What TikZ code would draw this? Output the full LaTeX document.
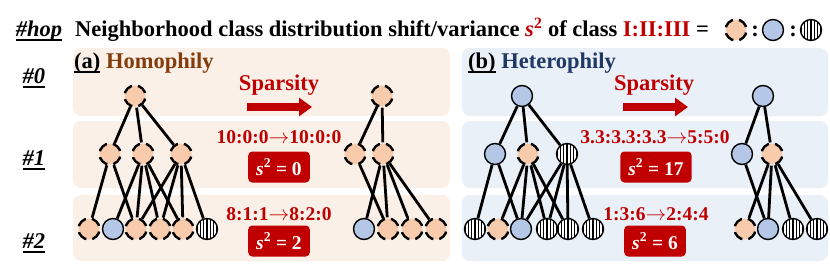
\documentclass[tikz,border=0pt]{standalone}
\usepackage{fontspec}
\setmainfont{Liberation Serif}
\usetikzlibrary{arrows.meta}
\definecolor{peachfill}{HTML}{F8CBAD}
\definecolor{bluefill}{HTML}{B4C7E7}
\definecolor{redtxt}{HTML}{C00000}
\definecolor{homobg}{HTML}{FBF0E8}
\definecolor{heterobg}{HTML}{EAF0F8}
\definecolor{homotxt}{HTML}{843C0C}
\definecolor{heterotxt}{HTML}{203864}
\newcommand\hopul[1]{\setbox0\hbox{#1}\rlap{\rule[-5pt]{\wd0}{1.6pt}}\box0\relax}
\newcommand\ratioto{$\rightarrow$}
\begin{document}
\begin{tikzpicture}[x=1pt,y=-1pt,
    every node/.style={font=\fontsize{22.5}{27}\selectfont\bfseries},
    nodeI/.style={circle, minimum size=21pt, inner sep=0pt, fill=peachfill, draw=black, line width=2.4pt, dash pattern=on 10.5pt off 6pt, dash phase=13.5pt},
    nodeII/.style={circle, minimum size=21pt, inner sep=0pt, fill=bluefill, draw=black, line width=1.4pt},
    nodeIII/.style={circle, minimum size=21pt, inner sep=0pt, fill=white, draw=black, line width=1.4pt,
        path picture={\foreach \k in {-3,...,3}{\draw[line width=1.5pt] ([xshift=\k*3.3pt]path picture bounding box.north) -- ([xshift=\k*3.3pt]path picture bounding box.south);}}},
    link/.style={line width=2.8pt},
    ratiotxt/.style={anchor=base, text=redtxt, font=\fontsize{19.5}{23}\selectfont\bfseries},
    varbox/.style={fill=redtxt, text=white, rounded corners=4pt, minimum height=31pt, inner xsep=8pt, font=\fontsize{19.5}{23}\selectfont\bfseries},
    sparrow/.style={draw=redtxt, line width=8pt, -{Triangle[length=13pt,width=18pt]}}]
    \useasboundingbox (0,0) rectangle (830,265);

    % panels
    \fill[homobg, rounded corners=8pt] (73,48) rectangle (450,116);
    \fill[homobg, rounded corners=8pt] (73,121) rectangle (450,188);
    \fill[homobg, rounded corners=8pt] (73,195) rectangle (450,261);
    \fill[heterobg, rounded corners=8pt] (462,48) rectangle (828,116);
    \fill[heterobg, rounded corners=8pt] (462,121) rectangle (828,188);
    \fill[heterobg, rounded corners=8pt] (462,195) rectangle (828,261);

    % title and legend
    \node[anchor=base] (hop) at (39,36) {\hopul{\itshape\#hop}};
    \node[anchor=base west, inner sep=0pt] (title) at (75,36) {Neighborhood class distribution shift/variance {\color{redtxt}\textit{s}\textsuperscript{2}} of class {\color{redtxt}I:II:III} =};
    \node[nodeI] (lgI) at (736,30) {};
    \node[anchor=base] (lc1) at (755,36) {:};
    \node[nodeII] (lgII) at (773,30) {};
    \node[anchor=base] (lc2) at (793,36) {:};
    \node[nodeIII] (lgIII) at (811,30) {};

    % hop labels
    \node[anchor=base] (h0) at (34,83) {\hopul{\itshape\#0}};
    \node[anchor=base] (h1) at (34,165) {\hopul{\itshape\#1}};
    \node[anchor=base] (h2) at (34,248) {\hopul{\itshape\#2}};

    % panel titles
    \node[anchor=base west, inner sep=0pt] (hdA) at (74,68) {\hopul{(a)} {\color{homotxt}Homophily}};
    \node[anchor=base west, inner sep=0pt] (hdB) at (468,68) {\hopul{(b)} {\color{heterotxt}Heterophily}};

    % sparsity arrows
    \node[anchor=base, text=redtxt] (spA) at (279,90) {Sparsity};
    \node[anchor=base, text=redtxt] (spB) at (654,90) {Sparsity};
    \coordinate (arA0) at (247,107);
    \coordinate (arA1) at (312,107);
    \coordinate (arB0) at (623,107);
    \coordinate (arB1) at (688,107);
    \draw[sparrow] (arA0) -- (arA1);
    \draw[sparrow] (arB0) -- (arB1);

    % ratios and variances
    \node[ratiotxt] (rA1) at (279,143) {10:0:0\ratioto10:0:0};
    \node[ratiotxt] (rA2) at (279,220) {8:1:1\ratioto8:2:0};
    \node[ratiotxt] (rB1) at (655,143) {3.3:3.3:3.3\ratioto5:5:0};
    \node[ratiotxt] (rB2) at (656,220) {1:3:6\ratioto2:4:4};
    \node[varbox] (vA1) at (279,167) {\textit{s}\textsuperscript{2} = 0};
    \node[varbox] (vA2) at (279,241) {\textit{s}\textsuperscript{2} = 2};
    \node[varbox] (vB1) at (656,167) {\textit{s}\textsuperscript{2} = 17};
    \node[varbox] (vB2) at (655,241) {\textit{s}\textsuperscript{2} = 6};

    % (a) full tree
    \node[nodeI] (a0) at (135,96) {};
    \node[nodeI] (a11) at (110,154) {};
    \node[nodeI] (a12) at (143,154) {};
    \node[nodeI] (a13) at (181,154) {};
    \node[nodeI] (a21) at (89,229) {};
    \node[nodeII] (a22) at (113,229) {};
    \node[nodeI] (a23) at (136,229) {};
    \node[nodeI] (a24) at (160,229) {};
    \node[nodeI] (a25) at (183,229) {};
    \node[nodeIII] (a26) at (207,229) {};
    \foreach \t in {a11,a12,a13} \draw[link] (a0) -- (\t);
    \foreach \t in {a21,a23} \draw[link] (a11) -- (\t);
    \foreach \t in {a22,a23,a24,a25} \draw[link] (a12) -- (\t);
    \foreach \t in {a23,a24,a25,a26} \draw[link] (a13) -- (\t);

    % (a) sparse tree
    \node[nodeI] (b0) at (382,96) {};
    \node[nodeI] (b11) at (355,154) {};
    \node[nodeI] (b12) at (383,154) {};
    \node[nodeII] (b21) at (364,229) {};
    \node[nodeI] (b22) at (388,229) {};
    \node[nodeI] (b23) at (412,229) {};
    \node[nodeI] (b24) at (436,229) {};
    \foreach \t in {b11,b12} \draw[link] (b0) -- (\t);
    \draw[link] (b11) -- (b22);
    \foreach \t in {b21,b22,b23,b24} \draw[link] (b12) -- (\t);

    % (b) full tree
    \node[nodeII] (c0) at (522,96) {};
    \node[nodeII] (c11) at (495,154) {};
    \node[nodeI] (c12) at (528,154) {};
    \node[nodeIII] (c13) at (567,154) {};
    \node[nodeIII] (c21) at (475,229) {};
    \node[nodeI] (c22) at (498,229) {};
    \node[nodeII] (c23) at (521,229) {};
    \node[nodeIII] (c24) at (547,229) {};
    \node[nodeIII] (c25) at (568,229) {};
    \node[nodeIII] (c26) at (593,229) {};
    \foreach \t in {c11,c12,c13} \draw[link] (c0) -- (\t);
    \foreach \t in {c21,c23} \draw[link] (c11) -- (\t);
    \foreach \t in {c22,c23,c24,c25} \draw[link] (c12) -- (\t);
    \foreach \t in {c23,c24,c25,c26} \draw[link] (c13) -- (\t);

    % (b) sparse tree
    \node[nodeII] (d0) at (763,96) {};
    \node[nodeII] (d11) at (742,154) {};
    \node[nodeI] (d12) at (772,154) {};
    \node[nodeI] (d21) at (745,229) {};
    \node[nodeII] (d22) at (768,229) {};
    \node[nodeIII] (d23) at (793,229) {};
    \node[nodeIII] (d24) at (817,229) {};
    \foreach \t in {d11,d12} \draw[link] (d0) -- (\t);
    \draw[link] (d11) -- (d22);
    \foreach \t in {d21,d22,d23,d24} \draw[link] (d12) -- (\t);
\end{tikzpicture}
\end{document}
